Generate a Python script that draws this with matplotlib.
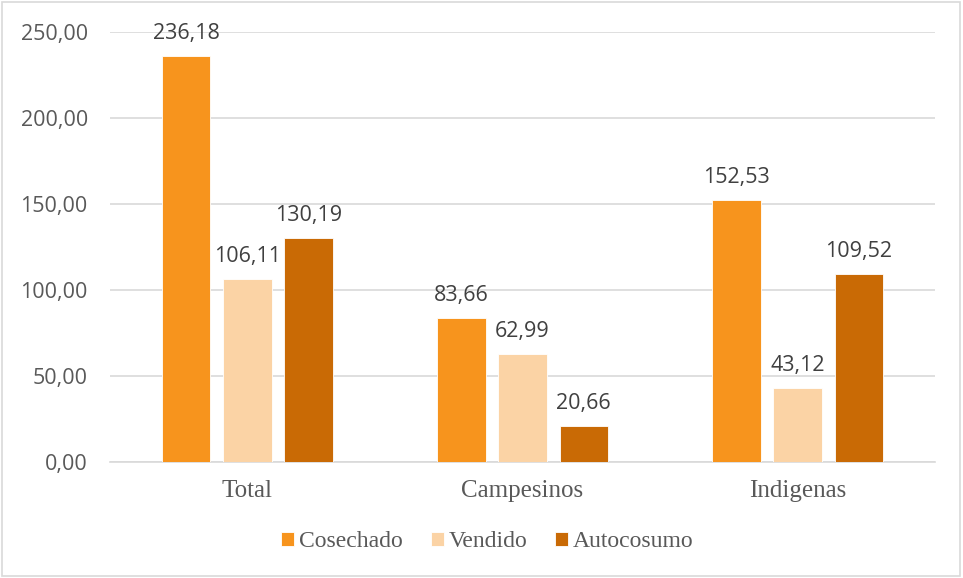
import numpy as np
import matplotlib.pyplot as plt
from matplotlib.patches import Rectangle

categories = ["Total", "Campesinos", "Indigenas"]
series = ["Cosechado", "Vendido", "Autocosumo"]
cosechado = [236.18, 83.66, 152.53]
vendido = [106.11, 62.99, 43.12]
autocosumo = [130.19, 20.66, 109.52]
colors = ["#F7941D", "#FBD3A5", "#C96A05"]
yticks = [0, 50, 100, 150, 200, 250]

fig = plt.figure(figsize=(9.63, 5.78), dpi=100)
ax = fig.add_axes([0.1142, 0.2007, 0.8568, 0.7439])

x = np.arange(len(categories))
offset = 0.222
width = 0.175
for i, (vals, name) in enumerate(zip([cosechado, vendido, autocosumo], series)):
    bars = ax.bar(x + (i - 1) * offset, vals, width, color=colors[i], label=name,
                  edgecolor="white", linewidth=0.6, zorder=3)
    for b, v in zip(bars, vals):
        ax.text(b.get_x() + b.get_width() / 2, v + 7, f"{v:.2f}".replace(".", ","),
                ha="center", va="bottom", fontsize=15.5, family="Open Sans", color="#404040")

ax.set_xlim(-0.5, 2.5)
ax.set_ylim(0, 250)
ax.set_yticks(yticks)
ax.set_yticklabels([f"{t:.2f}".replace(".", ",") for t in yticks], family="Open Sans",
                   fontsize=15.5, color="#595959")
ax.set_xticks(x)
ax.set_xticklabels(categories, family="Liberation Serif", fontsize=18, color="#595959")
ax.tick_params(axis="both", length=0)
ax.tick_params(axis="y", pad=16)
ax.tick_params(axis="x", pad=13)
ax.grid(axis="y", color="#D9D9D9", linewidth=1.2, zorder=0)
for s in ["top", "right", "left"]:
    ax.spines[s].set_visible(False)
ax.spines["bottom"].set_color("#D9D9D9")
ax.spines["bottom"].set_linewidth(1.2)

leg = fig.legend(loc="center", bbox_to_anchor=(0.506, 0.063), ncol=3, frameon=False,
                 prop={"family": "Liberation Serif", "size": 17}, handlelength=0.55,
                 handleheight=0.55, handletextpad=0.2, columnspacing=1.2)
for t in leg.get_texts():
    t.set_color("#595959")

fig.patches.append(Rectangle((0.002, 0.003), 0.995, 0.993, transform=fig.transFigure,
                             fill=False, edgecolor="#D9D9D9", linewidth=1.2))

fig.savefig("out.png", dpi=100)
